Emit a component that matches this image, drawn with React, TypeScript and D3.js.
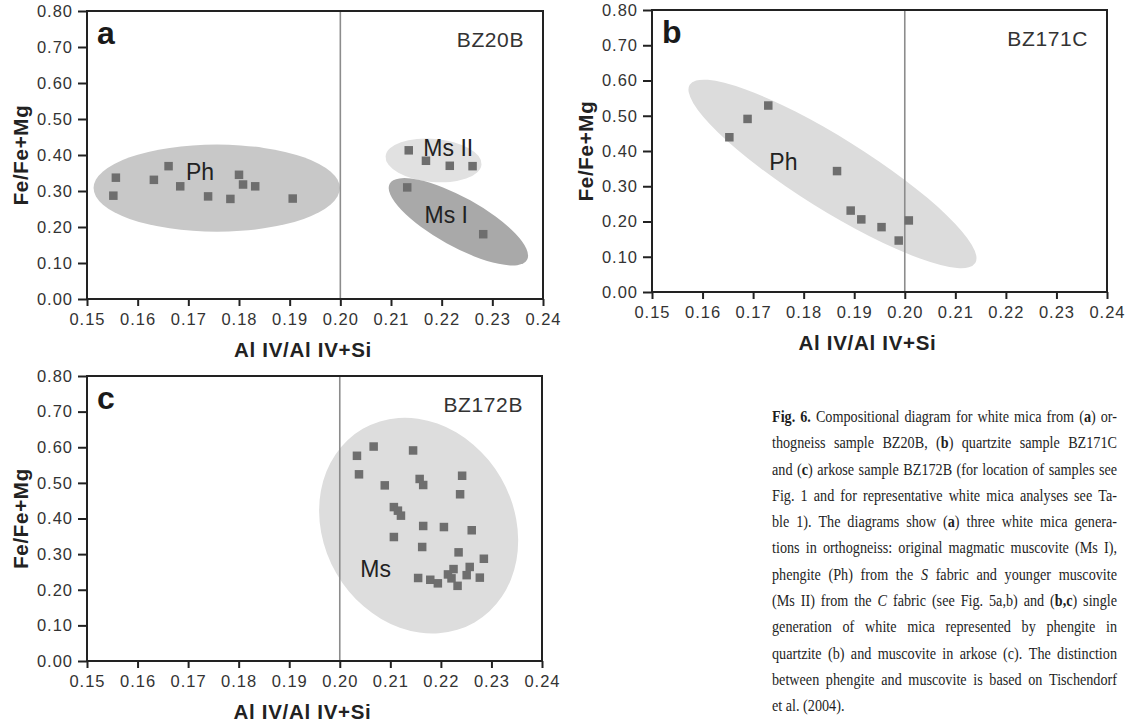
import React, { useRef, useEffect } from "react";
import * as d3 from "d3";

// axis ticks shared by all three panels
const xTicks = [0.15, 0.16, 0.17, 0.18, 0.19, 0.2, 0.21, 0.22, 0.23, 0.24];
const yTicks = [0, 0.1, 0.2, 0.3, 0.4, 0.5, 0.6, 0.7, 0.8];

// panel a - BZ20B
const phXa = [0.1557, 0.1552, 0.1632, 0.1661, 0.1684, 0.1739, 0.1783, 0.18, 0.1808, 0.1832, 0.1906];
const phYa = [0.337, 0.287, 0.331, 0.369, 0.313, 0.285, 0.278, 0.345, 0.318, 0.313, 0.279];
const ms2Xa = [0.2135, 0.2169, 0.2216, 0.2261];
const ms2Ya = [0.413, 0.384, 0.37, 0.369];
const ms1Xa = [0.2132, 0.2282];
const ms1Ya = [0.31, 0.18];

// panel b - BZ171C
const phXb = [0.1653, 0.1689, 0.173, 0.1866, 0.1893, 0.1914, 0.1954, 0.1988, 0.2008];
const phYb = [0.439, 0.491, 0.529, 0.343, 0.231, 0.206, 0.184, 0.146, 0.203];

// panel c - BZ172B
const msXc = [0.2034, 0.2067, 0.2038, 0.2145, 0.2089, 0.2158, 0.2165, 0.2242, 0.2238, 0.2107,
  0.2115, 0.2121, 0.2165, 0.2206, 0.2261, 0.2107, 0.2163, 0.2235, 0.2285, 0.2257,
  0.2225, 0.2214, 0.2251, 0.2277, 0.2155, 0.2179, 0.2194, 0.2221, 0.2233];
const msYc = [0.576, 0.602, 0.524, 0.591, 0.493, 0.511, 0.494, 0.52, 0.468, 0.432,
  0.422, 0.408, 0.379, 0.376, 0.367, 0.348, 0.32, 0.305, 0.287, 0.264,
  0.258, 0.243, 0.241, 0.234, 0.233, 0.228, 0.218, 0.232, 0.211];

const CAPTION = [
  "**Fig.** **6.** Compositional diagram for white mica from (**a**) or-",
  "thogneiss sample BZ20B, (**b**) quartzite sample BZ171C",
  "and (**c**) arkose sample BZ172B (for location of samples see",
  "Fig. 1 and for representative white mica analyses see Ta-",
  "ble 1). The diagrams show (**a**) three white mica genera-",
  "tions in orthogneiss: original magmatic muscovite (Ms I),",
  "phengite (Ph) from the _S_ fabric and younger muscovite",
  "(Ms II) from the _C_ fabric (see Fig. 5a,b) and (**b,c**) single",
  "generation of white mica represented by phengite in",
  "quartzite (b) and muscovite in arkose (c). The distinction",
  "between phengite and muscovite is based on Tischendorf",
  "et al. (2004).",
];

const SANS = "'Liberation Sans', Arial, Helvetica, sans-serif";
const SERIF = "'Liberation Serif', 'Times New Roman', serif";
const fmt = d3.format(".2f");

const panels = [
  {
    left: 87, right: 543, top: 11, bottom: 299, letter: "a", sample: "BZ20B",
    ellipses: [
      { cx: 0.1756, cy: 0.308, rx: 0.0243, ry: 0.121, angle: 0, fill: "#c8c8c8" },
      { cx: 0.2184, cy: 0.385, rx: 0.0095, ry: 0.06, angle: 5, fill: "#e1e1e1" },
      { cx: 0.2233, cy: 0.2145, rx: 0.0155, ry: 0.068, angle: 29, fill: "#a9a9a9" },
    ],
    points: [...d3.zip(phXa, phYa), ...d3.zip(ms2Xa, ms2Ya), ...d3.zip(ms1Xa, ms1Ya)],
    labels: [
      { t: "Ph", x: 0.1723, y: 0.352 },
      { t: "Ms II", x: 0.2213, y: 0.42 },
      { t: "Ms I", x: 0.2209, y: 0.234 },
    ],
  },
  {
    left: 652, right: 1107, top: 10, bottom: 292, letter: "b", sample: "BZ171C",
    ellipses: [{ cx: 0.1857, cy: 0.335, rx: 0.0333, ry: 0.102, angle: 32, fill: "#dcdcdc" }],
    points: d3.zip(phXb, phYb),
    labels: [{ t: "Ph", x: 0.176, y: 0.37 }],
  },
  {
    left: 87, right: 542, top: 376, bottom: 661, letter: "c", sample: "BZ172B",
    ellipses: [{ cx: 0.2156, cy: 0.38, rx: 0.0221, ry: 0.267, angle: 60, fill: "#dddddd" }],
    points: d3.zip(msXc, msYc),
    labels: [{ t: "Ms", x: 0.2071, y: 0.258 }],
  },
];

function drawPanel(svg, p) {
  const x = d3.scaleLinear().domain([0.15, 0.24]).range([p.left, p.right]);
  const y = d3.scaleLinear().domain([0, 0.8]).range([p.bottom, p.top]);
  const g = svg.append("g");

  g.selectAll("ellipse").data(p.ellipses).join("ellipse")
    .attr("rx", d => x(d.cx + d.rx) - x(d.cx))
    .attr("ry", d => y(d.cy) - y(d.cy + d.ry))
    .attr("transform", d => `translate(${x(d.cx)},${y(d.cy)}) rotate(${d.angle})`)
    .attr("fill", d => d.fill);

  // boundary at 0.20
  g.append("line")
    .attr("x1", x(0.2)).attr("x2", x(0.2))
    .attr("y1", y(0.8)).attr("y2", y(0))
    .attr("stroke", "#8c8c8c").attr("stroke-width", 1.6);

  const s = 8.5;
  g.selectAll("rect.pt").data(p.points).join("rect")
    .attr("class", "pt")
    .attr("x", d => x(d[0]) - s / 2)
    .attr("y", d => y(d[1]) - s / 2)
    .attr("width", s).attr("height", s)
    .attr("fill", "#6e6e6e");

  g.selectAll("text.lab").data(p.labels).join("text")
    .attr("class", "lab")
    .attr("x", d => x(d.x)).attr("y", d => y(d.y))
    .attr("text-anchor", "middle").attr("dominant-baseline", "central")
    .attr("font-family", SANS).attr("font-size", 23).attr("fill", "#222")
    .text(d => d.t);

  // frame
  g.append("rect")
    .attr("x", p.left).attr("y", p.top)
    .attr("width", p.right - p.left).attr("height", p.bottom - p.top)
    .attr("fill", "none").attr("stroke", "#222").attr("stroke-width", 2);

  const xAxis = d3.axisBottom(x).tickValues(xTicks).tickFormat(fmt).tickSize(7).tickSizeOuter(0).tickPadding(7);
  const yAxis = d3.axisLeft(y).tickValues(yTicks).tickFormat(fmt).tickSize(9).tickSizeOuter(0).tickPadding(5);

  const styleAxis = ax => {
    ax.select(".domain").remove();
    ax.selectAll(".tick line").attr("stroke", "#222").attr("stroke-width", 2);
    ax.selectAll(".tick text")
      .attr("font-family", SANS).attr("font-size", 16.5)
      .attr("letter-spacing", 1).attr("fill", "#333");
  };
  g.append("g").attr("transform", `translate(0,${p.bottom})`).call(xAxis).call(styleAxis);
  g.append("g").attr("transform", `translate(${p.left},0)`).call(yAxis).call(styleAxis);

  g.append("text")
    .attr("x", (p.left + p.right) / 2 - 12).attr("y", p.bottom + 58)
    .attr("text-anchor", "middle")
    .attr("font-family", SANS).attr("font-size", 20.5).attr("font-weight", "bold")
    .attr("letter-spacing", 0.7).attr("fill", "#222")
    .text("Al IV/Al IV+Si");

  g.append("text")
    .attr("transform", `translate(${p.left - 59},${(p.top + p.bottom) / 2}) rotate(-90)`)
    .attr("text-anchor", "middle")
    .attr("font-family", SANS).attr("font-size", 20.5).attr("font-weight", "bold")
    .attr("letter-spacing", 0.7).attr("fill", "#222")
    .text("Fe/Fe+Mg");

  g.append("text")
    .attr("x", p.left + 10).attr("y", p.top + 33)
    .attr("font-family", SANS).attr("font-size", 32).attr("font-weight", "bold")
    .attr("fill", "#1a1a1a")
    .text(p.letter);

  g.append("text")
    .attr("x", p.right - 19).attr("y", p.top + 36)
    .attr("text-anchor", "end")
    .attr("font-family", SANS).attr("font-size", 21).attr("letter-spacing", 0.6)
    .attr("fill", "#333")
    .text(p.sample);
}

// justified caption, word by word (slightly condensed horizontally)
function drawCaption(svg) {
  const left = 772, width = 345, top = 422, lead = 26.3, fs = 16.5, sx = 0.86;
  const w = width / sx;
  const g = svg.append("g")
    .attr("transform", `translate(${left},0) scale(${sx},1)`)
    .attr("font-family", SERIF).attr("font-size", fs).attr("fill", "#1e1e1e");
  CAPTION.forEach((line, i) => {
    const yb = top + i * lead;
    const words = line.split(" ");
    const nodes = words.map(word => {
      const t = g.append("text").attr("y", yb);
      word.split(/(\*\*[^*]+\*\*|_[^_]+_)/).filter(s => s).forEach(s => {
        const ts = t.append("tspan");
        if (s.startsWith("**")) ts.attr("font-weight", "bold").text(s.slice(2, -2));
        else if (s.startsWith("_")) ts.attr("font-style", "italic").text(s.slice(1, -1));
        else ts.text(s);
      });
      return t;
    });
    const widths = nodes.map(n => n.node().getComputedTextLength());
    const last = i === CAPTION.length - 1;
    const gap = last ? fs * 0.25 : (w - d3.sum(widths)) / (words.length - 1);
    let cx = 0;
    nodes.forEach((n, k) => {
      n.attr("x", cx);
      cx += widths[k] + gap;
    });
  });
}

export default function App() {
  const ref = useRef(null);

  useEffect(() => {
    const svg = d3.select(ref.current);
    svg.selectAll("*").remove();
    panels.forEach(p => drawPanel(svg, p));
    drawCaption(svg);
  }, []);

  return (
    <svg ref={ref} width={1129} height={722}
      style={{ position: "absolute", left: 0, top: 0, background: "#fff" }} />
  );
}
